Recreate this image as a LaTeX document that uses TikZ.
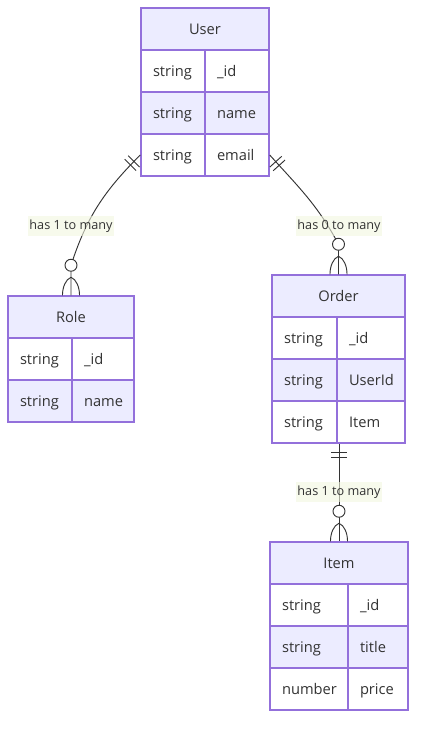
\documentclass[tikz,border=0pt]{standalone}
\usepackage{fontspec}
\setmainfont{Open Sans}
\definecolor{erline}{HTML}{9370DB}
\definecolor{erfill}{HTML}{ECECFF}
\definecolor{ertext}{HTML}{333333}
\definecolor{edgegray}{HTML}{333333}
\definecolor{labelbg}{HTML}{F2F6E0}

\begin{document}
\begin{tikzpicture}
[every node/.style={inner sep=0pt, text=ertext},
 header/.style={rectangle, draw=erline, fill=erfill, line width=1.1pt, minimum height=31.5pt, text height=9pt, text depth=1.3pt, font=\fontsize{11}{13}\selectfont},
 cell/.style={rectangle, draw=erline, line width=1.1pt, minimum height=31.5pt, inner xsep=9pt, text width=#1, text height=9pt, text depth=1.3pt, align=left, font=\fontsize{11}{13}\selectfont},
 oddrow/.style={fill=white},
 evenrow/.style={fill=erfill},
 edgelabel/.style={fill=labelbg, fill opacity=0.6, text opacity=1, inner xsep=1pt, inner ysep=3pt, font=\fontsize{9.5}{11}\selectfont},
 relation/.style={line width=0.7pt, draw=edgegray},
 marker/.style={line width=0.7pt, draw=edgegray}]
\useasboundingbox (0pt, 0pt) rectangle (318pt, -548.25pt);
% entities
\node (userh) [header, minimum width=96pt] at (153.75pt, -21.75pt) {User};
\node (user1t) [cell=30pt, oddrow] at (129.75pt, -53.25pt) {string};
\node (user1n) [cell=30pt, oddrow] at (177.75pt, -53.25pt) {\_id};
\node (user2t) [cell=30pt, evenrow] at (129.75pt, -84.75pt) {string};
\node (user2n) [cell=30pt, evenrow] at (177.75pt, -84.75pt) {name};
\node (user3t) [cell=30pt, oddrow] at (129.75pt, -116.25pt) {string};
\node (user3n) [cell=30pt, oddrow] at (177.75pt, -116.25pt) {email};

\node (roleh) [header, minimum width=94.5pt] at (53.25pt, -237.75pt) {Role};
\node (role1t) [cell=30pt, oddrow] at (30.0pt, -269.25pt) {string};
\node (role1n) [cell=28.5pt, oddrow] at (77.25pt, -269.25pt) {\_id};
\node (role2t) [cell=30pt, evenrow] at (30.0pt, -300.75pt) {string};
\node (role2n) [cell=28.5pt, evenrow] at (77.25pt, -300.75pt) {name};

\node (orderh) [header, minimum width=99.75pt] at (253.875pt, -222.0pt) {Order};
\node (order1t) [cell=30.75pt, oddrow] at (228.375pt, -253.5pt) {string};
\node (order1n) [cell=33pt, oddrow] at (278.25pt, -253.5pt) {\_id};
\node (order2t) [cell=30.75pt, evenrow] at (228.375pt, -285.0pt) {string};
\node (order2n) [cell=33pt, evenrow] at (278.25pt, -285.0pt) {UserId};
\node (order3t) [cell=30.75pt, oddrow] at (228.375pt, -316.5pt) {string};
\node (order3n) [cell=33pt, oddrow] at (278.25pt, -316.5pt) {Item};

\node (itemh) [header, minimum width=103.5pt] at (254.25pt, -422.25pt) {Item};
\node (item1t) [cell=40.5pt, oddrow] at (231.75pt, -453.75pt) {string};
\node (item1n) [cell=27pt, oddrow] at (283.5pt, -453.75pt) {\_id};
\node (item2t) [cell=40.5pt, evenrow] at (231.75pt, -485.25pt) {string};
\node (item2n) [cell=27pt, evenrow] at (283.5pt, -485.25pt) {title};
\node (item3t) [cell=40.5pt, oddrow] at (231.75pt, -516.75pt) {number};
\node (item3n) [cell=27pt, oddrow] at (283.5pt, -516.75pt) {price};

% relations
\coordinate (roleo) at ([yshift=22.5pt]roleh.north);
\coordinate (ordero) at ([yshift=22.5pt]orderh.north);
\coordinate (itemo) at ([yshift=22.5pt]itemh.north);
\coordinate (ordbot) at (itemh.north |- order3n.south);
\draw [relation] (user3t.west) to [out=225, in=72] (roleo) -- (roleh.north);
\draw [relation] (user3n.east) to [out=-48, in=118] (ordero) -- (orderh.north);
\draw [relation] (ordbot) -- (itemh.north);

\node (lrole) [edgelabel] at (53.25pt, -169.5pt) {has 1 to many};
\node (lorder) [edgelabel] at (254.25pt, -169.5pt) {has 0 to many};
\node (litem) [edgelabel] at (254.25pt, -369.0pt) {has 1 to many};

% only one
\draw [marker, shift={(user3t.west)}, rotate=225] (6.75pt, -6pt) -- (6.75pt, 6pt) (10.5pt, -6pt) -- (10.5pt, 6pt);
\draw [marker, shift={(user3n.east)}, rotate=-48] (6.75pt, -6pt) -- (6.75pt, 6pt) (10.5pt, -6pt) -- (10.5pt, 6pt);
\draw [marker, shift={(ordbot)}, rotate=-90] (6.75pt, -6pt) -- (6.75pt, 6pt) (10.5pt, -6pt) -- (10.5pt, 6pt);

% zero or more
\draw [marker] ([yshift=13.5pt]roleh.north) .. controls +(-4pt, -1.5pt) and +(0pt, 6pt) .. ([xshift=-6.4pt]roleh.north);
\draw [marker] ([yshift=13.5pt]roleh.north) .. controls +(4pt, -1.5pt) and +(0pt, 6pt) .. ([xshift=6.4pt]roleh.north);
\draw [marker, fill=white] (roleo) circle [radius=4.5pt];
\draw [marker] ([yshift=13.5pt]orderh.north) .. controls +(-4pt, -1.5pt) and +(0pt, 6pt) .. ([xshift=-6.4pt]orderh.north);
\draw [marker] ([yshift=13.5pt]orderh.north) .. controls +(4pt, -1.5pt) and +(0pt, 6pt) .. ([xshift=6.4pt]orderh.north);
\draw [marker, fill=white] (ordero) circle [radius=4.5pt];
\draw [marker] ([yshift=13.5pt]itemh.north) .. controls +(-4pt, -1.5pt) and +(0pt, 6pt) .. ([xshift=-6.4pt]itemh.north);
\draw [marker] ([yshift=13.5pt]itemh.north) .. controls +(4pt, -1.5pt) and +(0pt, 6pt) .. ([xshift=6.4pt]itemh.north);
\draw [marker, fill=white] (itemo) circle [radius=4.5pt];
\end{tikzpicture}
\end{document}
